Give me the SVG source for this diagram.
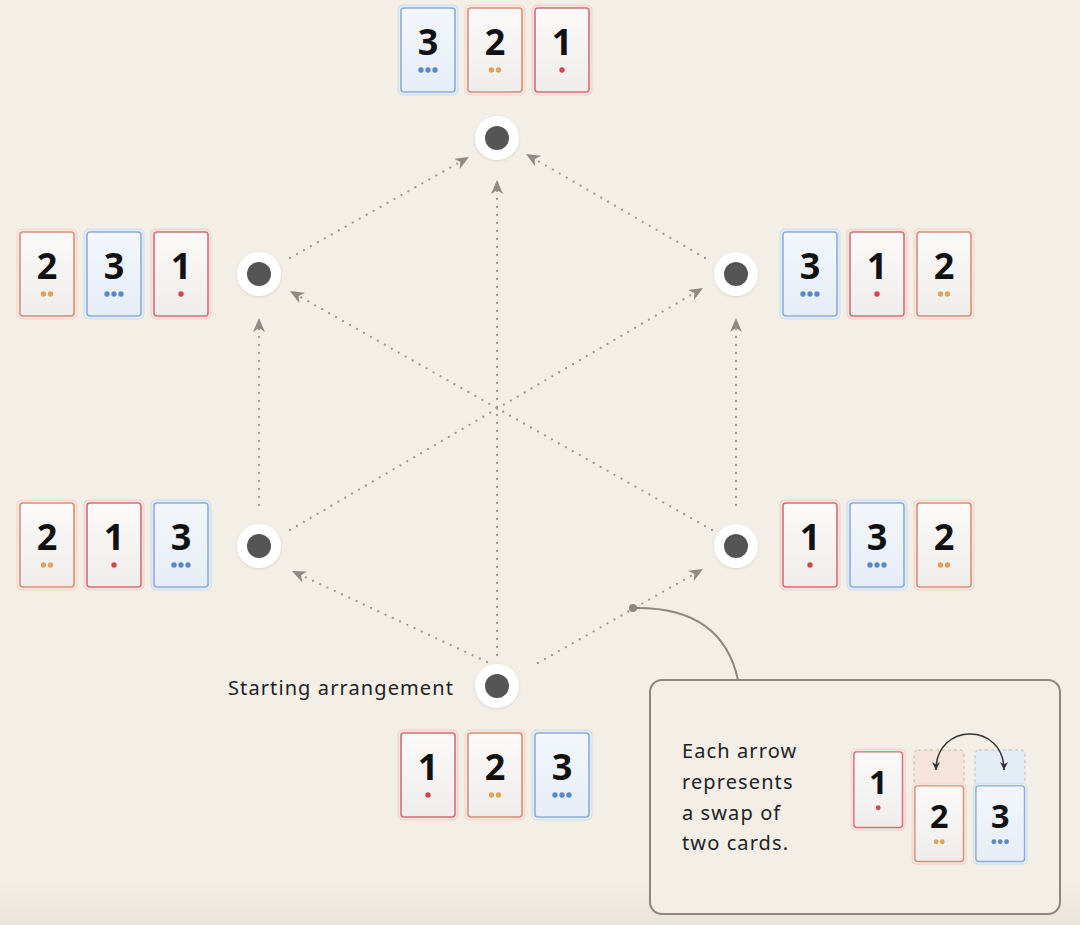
<svg xmlns="http://www.w3.org/2000/svg" xmlns:xlink="http://www.w3.org/1999/xlink" width="1080" height="925" viewBox="0 0 1080 925">
<style>
.num{font-family:"Noto Sans","DejaVu Sans",sans-serif;font-weight:700;font-size:36px;fill:#111;text-anchor:middle}
.lbl{font-family:"Noto Sans","DejaVu Sans",sans-serif;font-size:20px;letter-spacing:1.1px;fill:#222}
.edge{fill:none;stroke:#9b978f;stroke-width:2.3;stroke-linecap:round;stroke-dasharray:0 8}
.ring{fill:#ffffff}
.core{fill:#555555}
</style>
<defs>
<linearGradient id="gw" x1="0" y1="0" x2="0" y2="1"><stop offset="0" stop-color="#fbfaf9"/><stop offset="1" stop-color="#efedeb"/></linearGradient>
<linearGradient id="gb" x1="0" y1="0" x2="0" y2="1"><stop offset="0" stop-color="#f3f7fc"/><stop offset="1" stop-color="#e6edf6"/></linearGradient>
<linearGradient id="bg" x1="0" y1="0" x2="0" y2="1"><stop offset="0" stop-color="#f3efe7"/><stop offset="0.95" stop-color="#f3efe7"/><stop offset="1" stop-color="#e8e4dc"/></linearGradient>
<marker id="ah" markerUnits="userSpaceOnUse" markerWidth="16" markerHeight="12" refX="14" refY="6" orient="auto">
<path d="M0,0 L14,6 L0,12 L4,6 z" fill="#8f8b84"/>
</marker>
<marker id="ah2" markerUnits="userSpaceOnUse" markerWidth="10" markerHeight="10" refX="8" refY="4" orient="auto-start-reverse">
<path d="M0,0 L8,4 L0,8 L2.5,4 z" fill="#333"/>
</marker>
<g id="c1">
<rect x="-2" y="-2" width="60" height="90" rx="5" fill="#f6e4e2" stroke="#f0cfcf" stroke-width="1"/>
<rect x="1" y="1" width="54" height="84" rx="3" fill="url(#gw)" stroke="#d56f74" stroke-width="1.6"/>
<text class="num" x="28" y="48">1</text>
<circle cx="28" cy="63" r="2.7" fill="#d2474d"/>
</g>
<g id="c2">
<rect x="-2" y="-2" width="60" height="90" rx="5" fill="#f6e6df" stroke="#f0d5c8" stroke-width="1"/>
<rect x="1" y="1" width="54" height="84" rx="3" fill="url(#gw)" stroke="#d98e77" stroke-width="1.6"/>
<text class="num" x="28" y="48">2</text>
<circle cx="24.5" cy="63" r="2.7" fill="#e0a458"/>
<circle cx="31.5" cy="63" r="2.7" fill="#e0a458"/>
</g>
<g id="c3">
<rect x="-2" y="-2" width="60" height="90" rx="5" fill="#e3ecf6" stroke="#cddcee" stroke-width="1"/>
<rect x="1" y="1" width="54" height="84" rx="3" fill="url(#gb)" stroke="#8cadd5" stroke-width="1.6"/>
<text class="num" x="28" y="48">3</text>
<circle cx="21" cy="63" r="2.7" fill="#5a89c6"/>
<circle cx="28" cy="63" r="2.7" fill="#5a89c6"/>
<circle cx="35" cy="63" r="2.7" fill="#5a89c6"/>
</g>
<filter id="sh" x="-50%" y="-50%" width="200%" height="200%"><feDropShadow dx="0" dy="1" stdDeviation="1.5" flood-color="#000" flood-opacity="0.12"/></filter>
</defs>
<rect width="1080" height="925" fill="url(#bg)"/>

<g id="connectors">
<path class="edge" d="M487,662 L292,571" marker-end="url(#ah)"/>
<path class="edge" d="M538,663 L703,569" marker-end="url(#ah)"/>
<path class="edge" d="M497,655 L497,180" marker-end="url(#ah)"/>
<path class="edge" d="M259,505 L259,318" marker-end="url(#ah)"/>
<path class="edge" d="M290,530 L703,288" marker-end="url(#ah)"/>
<path class="edge" d="M736,505 L736,318" marker-end="url(#ah)"/>
<path class="edge" d="M712,530 L290,291" marker-end="url(#ah)"/>
<path class="edge" d="M290,258 L469,157" marker-end="url(#ah)"/>
<path class="edge" d="M705,258 L526,154" marker-end="url(#ah)"/>
</g>

<g id="node-top">
<circle class="ring" cx="497" cy="138" r="22" filter="url(#sh)"/><circle class="core" cx="497" cy="138" r="12"/>
<use href="#c3" x="400" y="7"/><use href="#c2" x="467" y="7"/><use href="#c1" x="534" y="7"/>
</g>
<g id="node-upper-left">
<circle class="ring" cx="259" cy="274" r="22" filter="url(#sh)"/><circle class="core" cx="259" cy="274" r="12"/>
<use href="#c2" x="19" y="231"/><use href="#c3" x="86" y="231"/><use href="#c1" x="153" y="231"/>
</g>
<g id="node-upper-right">
<circle class="ring" cx="736" cy="274" r="22" filter="url(#sh)"/><circle class="core" cx="736" cy="274" r="12"/>
<use href="#c3" x="782" y="231"/><use href="#c1" x="849" y="231"/><use href="#c2" x="916" y="231"/>
</g>
<g id="node-lower-left">
<circle class="ring" cx="259" cy="546" r="22" filter="url(#sh)"/><circle class="core" cx="259" cy="546" r="12"/>
<use href="#c2" x="19" y="502"/><use href="#c1" x="86" y="502"/><use href="#c3" x="153" y="502"/>
</g>
<g id="node-lower-right">
<circle class="ring" cx="736" cy="546" r="22" filter="url(#sh)"/><circle class="core" cx="736" cy="546" r="12"/>
<use href="#c1" x="782" y="502"/><use href="#c3" x="849" y="502"/><use href="#c2" x="916" y="502"/>
</g>
<g id="node-start">
<circle class="ring" cx="497" cy="686" r="22" filter="url(#sh)"/><circle class="core" cx="497" cy="686" r="12"/>
<text class="lbl" x="228" y="695">Starting arrangement</text>
<use href="#c1" x="400" y="732"/><use href="#c2" x="467" y="732"/><use href="#c3" x="534" y="732"/>
</g>

<g id="legend">
<circle cx="633" cy="608" r="4" fill="#8a8680"/>
<path d="M633,608 Q722,606 738,680" fill="none" stroke="#8a8680" stroke-width="2"/>
<rect x="650" y="680" width="410" height="234" rx="12" fill="#f3efe7" stroke="#8a8680" stroke-width="2"/>
<text class="lbl" x="682" y="758">Each arrow</text>
<text class="lbl" x="682" y="789">represents</text>
<text class="lbl" x="682" y="820">a swap of</text>
<text class="lbl" x="682" y="850">two cards.</text>
<rect x="914" y="750" width="50" height="40" rx="4" fill="#f6e3da" stroke="#c9b8ae" stroke-width="1" stroke-dasharray="3 3"/>
<rect x="975" y="750" width="50" height="40" rx="4" fill="#e4ecf6" stroke="#b3bfcc" stroke-width="1" stroke-dasharray="3 3"/>
<g transform="translate(853,751) scale(0.9)"><use href="#c1"/></g>
<g transform="translate(914,785) scale(0.9)"><use href="#c2"/></g>
<g transform="translate(975,785) scale(0.9)"><use href="#c3"/></g>
<path d="M936,770 C936,722 1004,722 1004,770" fill="none" stroke="#333" stroke-width="1.5" marker-start="url(#ah2)" marker-end="url(#ah2)"/>
</g>
</svg>
